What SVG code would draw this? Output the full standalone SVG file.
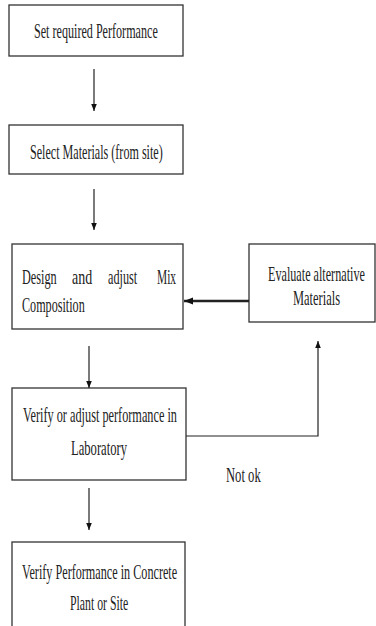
<svg xmlns="http://www.w3.org/2000/svg" width="376" height="626" viewBox="0 0 376 626">
<style>
.box{fill:#fff;stroke:#333;stroke-width:1.3}
.t{font-family:"Liberation Serif","Times New Roman",serif;font-size:22px;fill:#222}
.c{fill:none;stroke:#222;stroke-width:1.2}
.thick{fill:none;stroke:#222;stroke-width:2.6}
</style>
<defs>
<marker id="ah" viewBox="0 0 10 10" refX="10" refY="5" markerWidth="7" markerHeight="12" markerUnits="userSpaceOnUse" orient="auto">
<path d="M0,1 L10,5 L0,9 Z" fill="#111"/>
</marker>
<marker id="ah2" viewBox="0 0 10 10" refX="10" refY="5" markerWidth="10" markerHeight="9" markerUnits="userSpaceOnUse" orient="auto">
<path d="M0,1 L10,5 L0,9 Z" fill="#111"/>
</marker>
</defs>
<rect width="376" height="626" fill="#fff"/>
<g id="n1">
<rect class="box" x="9" y="5" width="174" height="51"/>
<text class="t" transform="translate(34,38) scale(0.56,1)" textLength="221" lengthAdjust="spacingAndGlyphs">Set required Performance</text>
</g>
<g id="n2">
<rect class="box" x="9" y="125" width="174" height="49"/>
<text class="t" transform="translate(30,159) scale(0.56,1)" textLength="237" lengthAdjust="spacingAndGlyphs">Select Materials (from site)</text>
</g>
<g id="n3">
<rect class="box" x="12" y="244" width="171" height="85"/>
<text class="t" transform="translate(22,284) scale(0.56,1)" textLength="62" lengthAdjust="spacingAndGlyphs">Design</text>
<text class="t" transform="translate(72,284) scale(0.56,1)" textLength="36" lengthAdjust="spacingAndGlyphs">and</text>
<text class="t" transform="translate(108,284) scale(0.56,1)" textLength="52" lengthAdjust="spacingAndGlyphs">adjust</text>
<text class="t" transform="translate(157,284) scale(0.56,1)" textLength="34" lengthAdjust="spacingAndGlyphs">Mix</text>
<text class="t" transform="translate(22,312) scale(0.56,1)" textLength="112" lengthAdjust="spacingAndGlyphs">Composition</text>
</g>
<g id="n4">
<rect class="box" x="249" y="244" width="126" height="78"/>
<text class="t" transform="translate(268,281) scale(0.56,1)" textLength="173" lengthAdjust="spacingAndGlyphs">Evaluate alternative</text>
<text class="t" transform="translate(293,305) scale(0.56,1)" textLength="84" lengthAdjust="spacingAndGlyphs">Materials</text>
</g>
<g id="n5">
<rect class="box" x="12" y="388" width="174" height="92"/>
<text class="t" transform="translate(23,422) scale(0.56,1)" textLength="275" lengthAdjust="spacingAndGlyphs">Verify or adjust performance in</text>
<text class="t" transform="translate(71,455) scale(0.56,1)" textLength="100" lengthAdjust="spacingAndGlyphs">Laboratory</text>
</g>
<g id="n6">
<rect class="box" x="12" y="542" width="173" height="86"/>
<text class="t" transform="translate(22,579) scale(0.56,1)" textLength="277" lengthAdjust="spacingAndGlyphs">Verify Performance in Concrete</text>
<text class="t" transform="translate(70,610) scale(0.56,1)" textLength="104" lengthAdjust="spacingAndGlyphs">Plant or Site</text>
</g>
<g id="label">
<text class="t" transform="translate(226,482) scale(0.56,1)" textLength="62" lengthAdjust="spacingAndGlyphs">Not ok</text>
</g>
<g id="connectors">
<line class="c" x1="94" y1="69" x2="94" y2="111" marker-end="url(#ah)"/>
<line class="c" x1="94" y1="189" x2="94" y2="230" marker-end="url(#ah)"/>
<line class="c" x1="89" y1="346" x2="89" y2="388" marker-end="url(#ah)"/>
<line class="c" x1="89" y1="488" x2="89" y2="530" marker-end="url(#ah)"/>
<line class="thick" x1="249" y1="301" x2="184" y2="301" marker-end="url(#ah2)"/>
<polyline class="c" points="186,436 318,436 318,341" marker-end="url(#ah)"/>
</g>
</svg>
